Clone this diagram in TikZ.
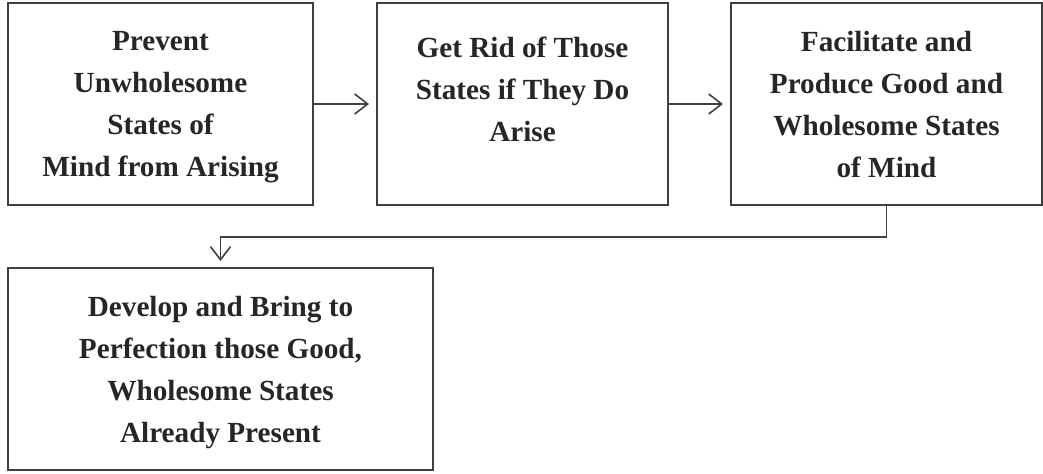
\documentclass[tikz,border=0pt]{standalone}
\usepackage{fontspec}
\setmainfont{Liberation Serif}
\usetikzlibrary{positioning}
\usetikzlibrary{arrows.meta}

\tikzset{
  stage/.style={draw=black!75, line width=1pt, rectangle, align=center, text=black!85,
    font=\bfseries\fontsize{14.6}{21}\selectfont, minimum height=101pt, inner sep=0pt, text depth=-1pt},
  flow/.style={draw=black!75, line width=0.8pt, -{Straight Barb[length=6.5pt,width=10pt,line width=0.8pt]}}
}

\begin{document}
\begin{tikzpicture}[x=0.5pt, y=-0.5pt]
\useasboundingbox (0,0) rectangle (1043,474);
\node[stage, minimum width=152.5pt] (box1) at (160.5,104) {Prevent\\Unwholesome\\States of\\Mind from Arising};
\node[stage, minimum width=145.5pt, text depth=15pt] (box2) at (522.5,104) {Get Rid of Those\\States if They Do\\Arise};
\node[stage, minimum width=155.5pt] (box3) at (886.5,104) {Facilitate and\\Produce Good and\\Wholesome States\\of Mind};
\node[stage, minimum width=212.5pt] (box4) at (220.5,369) {Develop and Bring to\\Perfection those Good,\\Wholesome States\\Already Present};
\draw[flow, shorten >=3.5pt] (box1.east) -- (box2.west);
\draw[flow, shorten >=3.5pt] (box2.east) -- (box3.west);
\draw[flow, shorten >=3pt] (box3.south) -- ++(0,31) -| (box4.north);
\end{tikzpicture}
\end{document}
